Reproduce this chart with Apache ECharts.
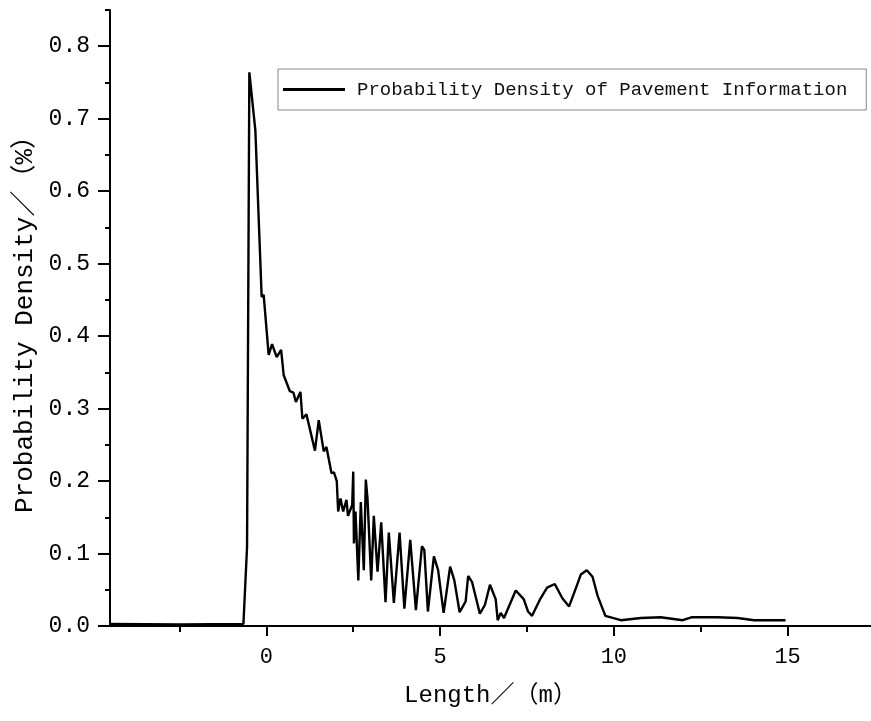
<!DOCTYPE html>
<html>
<head>
<meta charset="utf-8">
<script src="https://cdn.jsdelivr.net/npm/echarts@6/dist/echarts.min.js"></script>
<style>
html,body{margin:0;padding:0;background:#fff;}
#chart{width:871px;height:721px;}
</style>
</head>
<body>
<div id="chart"></div>
<script>
// Data
const lengthValues = [-4.5, -2.48, -0.66, -0.556, -0.49, -0.317, -0.135, -0.078, 0.066, 0.164, 0.297, 0.424, 0.499, 0.677, 0.778, 0.85, 0.98, 1.037, 1.153, 1.398, 1.507, 1.651, 1.729, 1.873, 1.945, 2.026, 2.066, 2.133, 2.21, 2.305, 2.349, 2.47, 2.50, 2.52, 2.565, 2.646, 2.718, 2.804, 2.862, 2.911, 3.017, 3.092, 3.199, 3.305, 3.429, 3.524, 3.669, 3.833, 3.971, 4.14, 4.303, 4.476, 4.545, 4.648, 4.821, 4.942, 5.101, 5.288, 5.409, 5.562, 5.735, 5.807, 5.917, 6.144, 6.288, 6.435, 6.599, 6.657, 6.744, 6.839, 7.176, 7.406, 7.530, 7.646, 7.867, 8.078, 8.30, 8.522, 8.712, 8.905, 9.049, 9.222, 9.386, 9.53, 9.755, 10.20, 10.78, 11.35, 11.98, 12.23, 12.99, 13.56, 14.04, 14.94];
const densityValues = [0.003, 0.002, 0.003, 0.109, 0.764, 0.684, 0.454, 0.457, 0.374, 0.389, 0.371, 0.381, 0.346, 0.324, 0.322, 0.309, 0.323, 0.286, 0.292, 0.242, 0.284, 0.241, 0.247, 0.211, 0.212, 0.200, 0.158, 0.176, 0.158, 0.174, 0.152, 0.167, 0.213, 0.114, 0.158, 0.063, 0.171, 0.077, 0.202, 0.175, 0.063, 0.152, 0.075, 0.143, 0.033, 0.129, 0.032, 0.129, 0.024, 0.119, 0.022, 0.110, 0.105, 0.020, 0.096, 0.077, 0.018, 0.082, 0.063, 0.019, 0.034, 0.069, 0.061, 0.017, 0.029, 0.057, 0.037, 0.008, 0.018, 0.011, 0.049, 0.037, 0.020, 0.014, 0.036, 0.053, 0.058, 0.038, 0.027, 0.052, 0.071, 0.077, 0.068, 0.042, 0.014, 0.008, 0.011, 0.012, 0.008, 0.012, 0.012, 0.011, 0.008, 0.008];
const xMajorTicks = [0, 5, 10, 15];
const xMinorTicks = [-2.5, 2.5, 7.5, 12.5];
const yMajorTicks = [0, 0.1, 0.2, 0.3, 0.4, 0.5, 0.6, 0.7, 0.8];
const yMinorTicks = [0.05, 0.15, 0.25, 0.35, 0.45, 0.55, 0.65, 0.75, 0.85];
const seriesName = 'Probability Density of Pavement Information';
const xAxisName = 'Length／（m）';
const yAxisName = 'Probability Density／（%）';

const FONT = '"Liberation Mono", "Noto Sans CJK SC", monospace';
const points = lengthValues.map((x, i) => [x, densityValues[i]]);

const chart = echarts.init(document.getElementById('chart'), null, {renderer: 'canvas'});
const axisLineStyle = {color: '#000', width: 2};
chart.setOption({
  animation: false,
  backgroundColor: '#fff',
  grid: {left: 110, right: 0, top: 10, bottom: 95, containLabel: false},
  legend: {
    show: true,
    data: [{name: seriesName, icon: 'rect'}],
    left: 278, top: 69,
    padding: [10, 19, 10, 5],
    borderColor: '#888', borderWidth: 1,
    itemWidth: 62, itemHeight: 3,
    itemStyle: {color: '#000'},
    textStyle: {fontFamily: FONT, fontSize: 19, color: '#111', padding: [0, 0, 0, 7], lineHeight: 21}
  },
  xAxis: [{
    type: 'value', min: -4.5, max: 17.4, position: 'bottom',
    name: xAxisName, nameLocation: 'middle', nameGap: 58,
    nameTextStyle: {fontFamily: FONT, fontSize: 24, color: '#000'},
    axisLine: {show: true, onZero: false, lineStyle: axisLineStyle},
    axisTick: {show: true, length: 10, lineStyle: {color: '#000', width: 2}, customValues: xMajorTicks},
    axisLabel: {show: true, margin: 20, fontFamily: FONT, fontSize: 22, color: '#000', customValues: xMajorTicks},
    splitLine: {show: false}
  }, {
    type: 'value', min: -4.5, max: 17.4, position: 'bottom',
    axisLine: {show: false, onZero: false},
    axisTick: {show: true, length: 6, lineStyle: {color: '#000', width: 2}, customValues: xMinorTicks},
    axisLabel: {show: false},
    splitLine: {show: false}
  }],
  yAxis: [{
    type: 'value', min: 0, max: 0.85, position: 'left',
    name: yAxisName, nameLocation: 'middle', nameGap: 68, nameRotate: 90,
    nameTextStyle: {fontFamily: FONT, fontSize: 26, color: '#000'},
    axisLine: {show: true, onZero: false, lineStyle: axisLineStyle},
    axisTick: {show: true, length: 12, lineStyle: {color: '#000', width: 2}, customValues: yMajorTicks},
    axisLabel: {show: true, margin: 20, fontFamily: FONT, fontSize: 23, color: '#000', customValues: yMajorTicks,
      formatter: v => Number(v).toFixed(1)},
    splitLine: {show: false}
  }, {
    type: 'value', min: 0, max: 0.85, position: 'left',
    axisLine: {show: false, onZero: false},
    axisTick: {show: true, length: 5, lineStyle: {color: '#000', width: 2}, customValues: yMinorTicks},
    axisLabel: {show: false},
    splitLine: {show: false}
  }],
  series: [{
    name: seriesName, type: 'line', xAxisIndex: 0, yAxisIndex: 0,
    data: points, showSymbol: false, symbol: 'none',
    lineStyle: {color: '#000', width: 2.4},
    itemStyle: {color: '#000'}
  }]
});
</script>
</body>
</html>
